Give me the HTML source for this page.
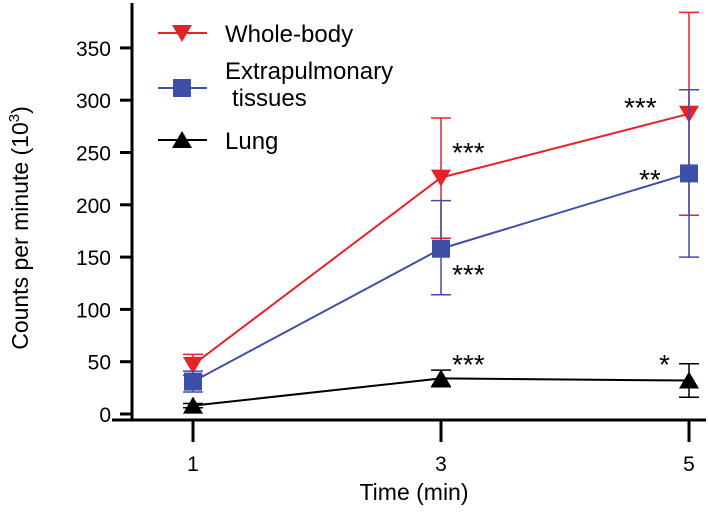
<!DOCTYPE html>
<html><head><meta charset="utf-8"><style>
body{margin:0;background:#fff}
svg{font-family:"Liberation Sans",Arial,sans-serif}
</style></head><body>
<svg id="c" width="709" height="511" viewBox="0 0 709 511">
<g id="axes"></g><g id="marks"></g>
<g>
 <g>
  <line x1="158" y1="33" x2="207" y2="33" stroke="#e8202a" stroke-width="2"/>
  <polygon points="172,25 192,25 182,42" fill="#e8202a"/>
  <text x="225" y="42" font-size="24">Whole-body</text></g>
 <g>
  <line x1="158" y1="88" x2="207" y2="88" stroke="#3f4fa8" stroke-width="2"/>
  <rect x="173" y="79" width="18" height="18" fill="#3f4fa8"/>
  <text x="225" y="79" font-size="24">Extrapulmonary</text>
  <text x="232" y="106" font-size="24">tissues</text></g>
 <g>
  <line x1="158" y1="140" x2="207" y2="140" stroke="#000" stroke-width="2"/>
  <polygon points="172,148 192,148 182,131" fill="#000"/>
  <text x="225" y="149" font-size="24">Lung</text></g>
</g>
<g font-size="28">
 <text x="452" y="162">***</text><text x="452" y="284">***</text><text x="452" y="374">***</text>
 <text x="624" y="117">***</text><text x="639" y="189">**</text><text x="659" y="374">*</text>
</g>
<text transform="translate(28,228) rotate(-90)" text-anchor="middle" font-size="23">Counts per minute (10<tspan dy="-9" font-size="15">3</tspan><tspan dy="9">)</tspan></text>
<text x="414" y="500" text-anchor="middle" font-size="23">Time (min)</text>
</svg>
<script>
const times=[1,3,5];
const yTicks=[0,50,100,150,200,250,300,350];
const wholeBody=[47,226,287];
const wholeBodyHi=[57,283,384];
const wholeBodyLo=[37,168,190];
const extra=[31,158,230];
const extraHi=[41,204,310];
const extraLo=[21,114,150];
const lung=[8,34,32];
const lungHi=[10,42,48];
const lungLo=[6,26,16];
const NS="http://www.w3.org/2000/svg";
const X=t=>193+(t-1)*124;
const Y=v=>414-v*1.046;
function mk(tag,at,p){const e=document.createElementNS(NS,tag);for(const k in at)e.setAttribute(k,at[k]);p.appendChild(e);return e;}
const ax=document.getElementById('axes'),mg=document.getElementById('marks');
let e=mk('line',{x1:132,y1:3,x2:132,y2:420,stroke:'#000','stroke-width':3},ax);


e=mk('line',{x1:112,y1:420,x2:706,y2:420,stroke:'#000','stroke-width':3},ax);


yTicks.forEach(v=>{mk('line',{x1:120,y1:Y(v),x2:132,y2:Y(v),stroke:'#000','stroke-width':3},ax);
 const t=mk('text',{x:111,y:Y(v)+8,'text-anchor':'end','font-size':21},ax);t.textContent=v;
 
 });
times.forEach(v=>{mk('line',{x1:X(v),y1:420,x2:X(v),y2:442,stroke:'#000','stroke-width':3},ax);
 const t=mk('text',{x:X(v),y:471,'text-anchor':'middle','font-size':21},ax);t.textContent=v;
 
 });
function series(name,vals,hi,lo,col,shape){
 const g=mk('g',{},mg);
 
 
 vals.forEach((v,i)=>{const x=X(times[i]);
  mk('line',{x1:x,y1:Y(hi[i]),x2:x,y2:Y(lo[i]),stroke:col,'stroke-width':1.5},g);
  mk('line',{x1:x-10,y1:Y(hi[i]),x2:x+10,y2:Y(hi[i]),stroke:col,'stroke-width':1.5},g);
  mk('line',{x1:x-10,y1:Y(lo[i]),x2:x+10,y2:Y(lo[i]),stroke:col,'stroke-width':1.5},g);});
 mk('polyline',{points:vals.map((v,i)=>X(times[i])+','+Y(v)).join(' '),fill:'none',stroke:col,'stroke-width':2},g);
 vals.forEach((v,i)=>{const x=X(times[i]),y=Y(v);let m;
  if(shape==='down')m=mk('polygon',{points:`${x-10},${y-8} ${x+10},${y-8} ${x},${y+9}`,fill:col},g);
  else if(shape==='sq')m=mk('rect',{x:x-9,y:y-9,width:18,height:18,fill:col},g);
  else m=mk('polygon',{points:`${x-10},${y+8} ${x+10},${y+8} ${x},${y-9}`,fill:col},g);
  
  });
}
series('whole-body',wholeBody,wholeBodyHi,wholeBodyLo,'#e8202a','down');
series('extrapulmonary',extra,extraHi,extraLo,'#3f4fa8','sq');
series('lung',lung,lungHi,lungLo,'#000','up');
</script>
</body></html>
